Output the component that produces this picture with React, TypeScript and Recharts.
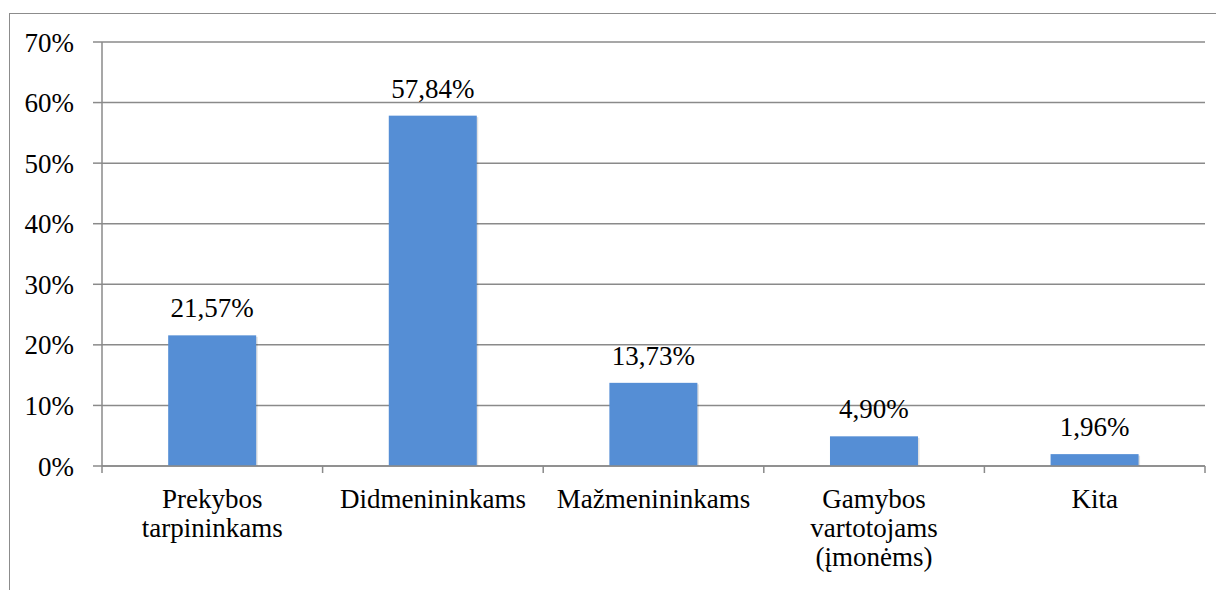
import { BarChart, Bar, XAxis, YAxis, CartesianGrid, LabelList } from 'recharts';

const categories = ['Prekybos tarpininkams', 'Didmenininkams', 'Mažmenininkams', 'Gamybos vartotojams (įmonėms)', 'Kita'];
const shares = [21.57, 57.84, 13.73, 4.9, 1.96];
const yTicks = [0, 10, 20, 30, 40, 50, 60, 70];

const data = categories.map((name, i) => ({ name, value: shares[i] }));

const W = 1216;
const H = 582;
const MARGIN = { top: 34, right: 19, bottom: 0, left: 0 };
const Y_W = 94;
const X_H = 124;
const PLOT_W = W - MARGIN.left - MARGIN.right - Y_W;
const BAND = PLOT_W / categories.length;

const FONT = 'Liberation Serif';
const FS = 27;
const AXIS = '#8a8a8a';
const BLUE = '#558ed5';

const pct = (v: unknown) => `${(Number(v) || 0).toFixed(2).replace('.', ',')}%`;

function CategoryTick(props: any) {
  const { x, y, payload, index } = props;
  const words = String(payload.value).split(' ');
  const left = x - BAND / 2;
  const right = x + BAND / 2;
  return (
    <g>
      <line x1={left} y1={y} x2={left} y2={y + 7} stroke={AXIS} strokeWidth={1.5} />
      {index === categories.length - 1 && (
        <line x1={right} y1={y} x2={right} y2={y + 7} stroke={AXIS} strokeWidth={1.5} />
      )}
      <text x={x} y={y + 42} textAnchor="middle" fontFamily={FONT} fontSize={FS} fill="#000">
        {words.map((w, i) => (
          <tspan key={i} x={x} dy={i === 0 ? 0 : 29}>
            {w}
          </tspan>
        ))}
      </text>
    </g>
  );
}

function ShadowBar(props: any) {
  const { x, y, width, height } = props;
  if (!height || height <= 0) return null;
  return (
    <g>
      <rect x={x + 1.5} y={y + 1.5} width={width} height={height - 1.5} fill="#000" opacity={0.12} />
      <rect x={x} y={y} width={width} height={height} fill={BLUE} />
    </g>
  );
}

export default function App() {
  return (
    <div style={{ position: 'relative', width: W, height: H, overflow: 'hidden', fontFamily: FONT }}>
      <div
        style={{
          position: 'absolute',
          left: 1,
          top: 5,
          width: 1400,
          height: 800,
          border: '1px solid #8c8c8c',
          boxSizing: 'border-box',
        }}
      />
      <div style={{ position: 'absolute', left: 0, top: 0 }}>
        <BarChart width={W} height={H} data={data} margin={MARGIN} barCategoryGap="30%">
          <CartesianGrid vertical={false} stroke={AXIS} strokeWidth={1.5} />
          <XAxis
            dataKey="name"
            height={X_H}
            interval={0}
            tickLine={false}
            tickSize={0}
            tickMargin={0}
            axisLine={{ stroke: AXIS, strokeWidth: 1.5 }}
            tick={<CategoryTick />}
          />
          <YAxis
            width={Y_W}
            domain={[0, 70]}
            ticks={yTicks}
            interval={0}
            tickSize={9}
            tickMargin={19}
            tickLine={{ stroke: AXIS, strokeWidth: 1.5 }}
            axisLine={{ stroke: AXIS, strokeWidth: 1.5 }}
            tickFormatter={(v: number) => `${v}%`}
            tick={{ fontFamily: FONT, fontSize: FS, fill: '#000' }}
          />
          <Bar dataKey="value" fill={BLUE} isAnimationActive={false} shape={<ShadowBar />}>
            <LabelList
              dataKey="value"
              position="top"
              offset={18}
              formatter={pct}
              fontFamily={FONT}
              fontSize={FS}
              fill="#000"
            />
          </Bar>
        </BarChart>
      </div>
    </div>
  );
}
